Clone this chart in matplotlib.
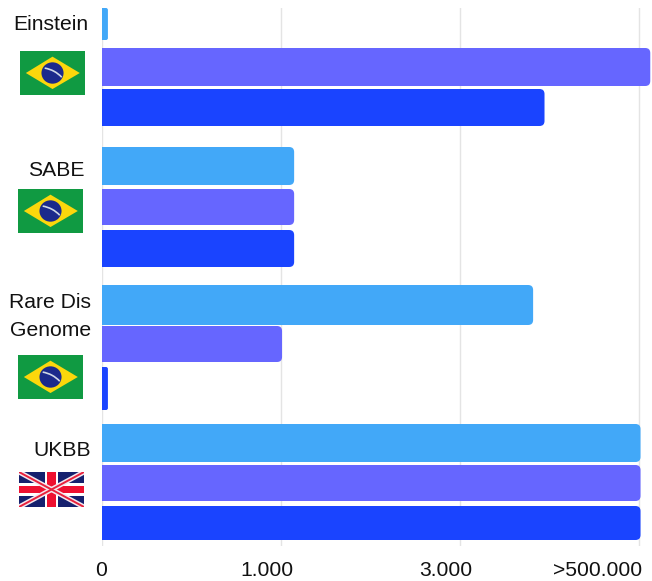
import matplotlib
matplotlib.use('Agg')
import matplotlib.pyplot as plt
import numpy as np
from matplotlib.patches import PathPatch, Polygon, Circle, Rectangle, Arc
from matplotlib.path import Path
from matplotlib.transforms import IdentityTransform, ScaledTranslation

# values per cohort, top to bottom
cohorts = ['Einstein', 'SABE', 'Rare Dis\nGenome', 'UKBB']
light_values = [33, 1145, 205000, 503000]
purple_values = [530000, 1145, 1010, 503000]
blue_values = [236600, 1145, 33, 503000]

tick_values = [0, 1000, 3000, 500000]
tick_labels = ['0', '1.000', '3.000', '>500.000']

# bar top/bottom in picture pixels
light_edges = [(8, 40), (147, 185), (285, 325), (424, 462)]
purple_edges = [(48, 86), (189, 225), (326, 362), (465, 501)]
blue_edges = [(89, 126), (230, 267), (367, 410), (506, 540)]

LIGHT = '#42a8f8'
PURPLE = '#6666ff'
BLUE = '#1a44ff'
GRID = '#e4e4e4'

W, H = 652, 581
plt.rcParams['font.family'] = ['Liberation Sans', 'DejaVu Sans']
fig = plt.figure(figsize=(W / 100, H / 100), dpi=100)


def px_axes(x0, y0, x1, y1, **kw):
    return fig.add_axes([x0 / W, 1 - y1 / H, (x1 - x0) / W, (y1 - y0) / H], **kw)


ax = px_axes(102, 8, 652, 546)

# axis is evenly spaced between ticks, not linear in the value
knots_pos = [0, 1, 2, 3, 3.07]
knots_val = [0, 1000, 3000, 500000, 534800]


def forward(v):
    return np.interp(v, knots_val, knots_pos)


def inverse(p):
    return np.interp(p, knots_pos, knots_val)


ax.set_xscale('function', functions=(forward, inverse))
ax.set_xlim(0, 534800)
ax.set_ylim(546, 8)


def rounded_bar(bar, color, r=5):
    # redraw a bar in pixels with its right end rounded
    (x0, y0), (x1, y1) = ax.transData.transform(
        [(bar.get_x(), bar.get_y()), (bar.get_x() + bar.get_width(), bar.get_y() + bar.get_height())])
    y0, y1 = min(y0, y1), max(y0, y1)
    r = min(r, (x1 - x0) / 3)
    verts = [(x0, y0), (x1 - r, y0), (x1, y0), (x1, y0 + r), (x1, y1 - r), (x1, y1), (x1 - r, y1), (x0, y1), (x0, y0)]
    codes = [Path.MOVETO, Path.LINETO, Path.CURVE3, Path.CURVE3, Path.LINETO, Path.CURVE3, Path.CURVE3, Path.LINETO, Path.CLOSEPOLY]
    ax.add_patch(PathPatch(Path(verts, codes), transform=IdentityTransform(), fc=color, ec='none', zorder=3, clip_on=False))
    bar.set_visible(False)


for values, edges, color in [(light_values, light_edges, LIGHT),
                             (purple_values, purple_edges, PURPLE),
                             (blue_values, blue_edges, BLUE)]:
    tops = np.array([e[0] for e in edges])
    bottoms = np.array([e[1] for e in edges])
    bars = ax.barh((tops + bottoms) / 2, values, height=bottoms - tops, color=color)
    for bar in bars:
        rounded_bar(bar, color)

for s in ax.spines.values():
    s.set_visible(False)
ax.set_yticks([])
ax.set_xticks(tick_values)
ax.set_xticklabels(tick_labels, fontsize=15.2)
ax.tick_params(axis='x', length=0, pad=11, labelcolor='#111111')
ax.grid(axis='x', color=GRID, linewidth=1)
ax.set_axisbelow(True)

# tick labels sit left of their gridlines in the original
label_shift = [-1, -14.5, -14.5, -42]
for lab, dx in zip(ax.get_xticklabels(), label_shift):
    lab.set_transform(lab.get_transform() + ScaledTranslation(dx / 100, 0, fig.dpi_scale_trans))

# cohort names
name_x = [51, 85, 91, 91]
name_y = [24, 170, 316, 450]
name_ha = ['center', 'right', 'right', 'right']
for name, x, y, ha in zip(cohorts, name_x, name_y, name_ha):
    fig.text(x / W, 1 - y / H, name, fontsize=15.2, ha=ha, va='center', color='#111111', linespacing=1.6)


def brazil(x0, y0, x1, y1):
    a = px_axes(x0, y0, x1, y1)
    a.set_xlim(0, 20)
    a.set_ylim(0, 14)
    a.axis('off')
    a.add_patch(Rectangle((0, 0), 20, 14, fc='#109a42', ec='none'))
    a.add_patch(Polygon([(1.8, 7), (10, 12.2), (18.4, 7), (10, 1.9)], fc='#fbd70c', ec='none'))
    a.add_patch(Circle((10, 7), 3.4, fc='#1b2a8c', ec='none'))
    a.add_patch(Arc((6, -0.5), 18.4, 18.4, theta1=42, theta2=80, color='#cfd8e6', lw=1.2))


def union_jack(x0, y0, x1, y1):
    a = px_axes(x0, y0, x1, y1)
    a.set_xlim(0, 60)
    a.set_ylim(0, 30)
    a.axis('off')
    a.add_patch(Rectangle((0, 0), 60, 30, fc='#15206e', ec='none'))
    a.plot([0, 60], [0, 30], color='#f4e8ee', lw=3.6, solid_capstyle='butt')
    a.plot([0, 60], [30, 0], color='#f4e8ee', lw=3.6, solid_capstyle='butt')
    a.plot([0, 60], [0, 30], color='#e8213d', lw=1.4, solid_capstyle='butt')
    a.plot([0, 60], [30, 0], color='#e8213d', lw=1.4, solid_capstyle='butt')
    a.add_patch(Rectangle((24, 0), 12, 30, fc='white', ec='none'))
    a.add_patch(Rectangle((0, 9.7), 60, 10.6, fc='white', ec='none'))
    a.add_patch(Rectangle((26, 0), 8, 30, fc='#ee1030', ec='none'))
    a.add_patch(Rectangle((0, 11.7), 60, 6.6, fc='#ee1030', ec='none'))


brazil(20, 51, 85, 95)
brazil(18, 189, 83, 233)
brazil(18, 355, 83, 399)
union_jack(19, 472, 84, 507)

fig.savefig('out.png', dpi=100)
